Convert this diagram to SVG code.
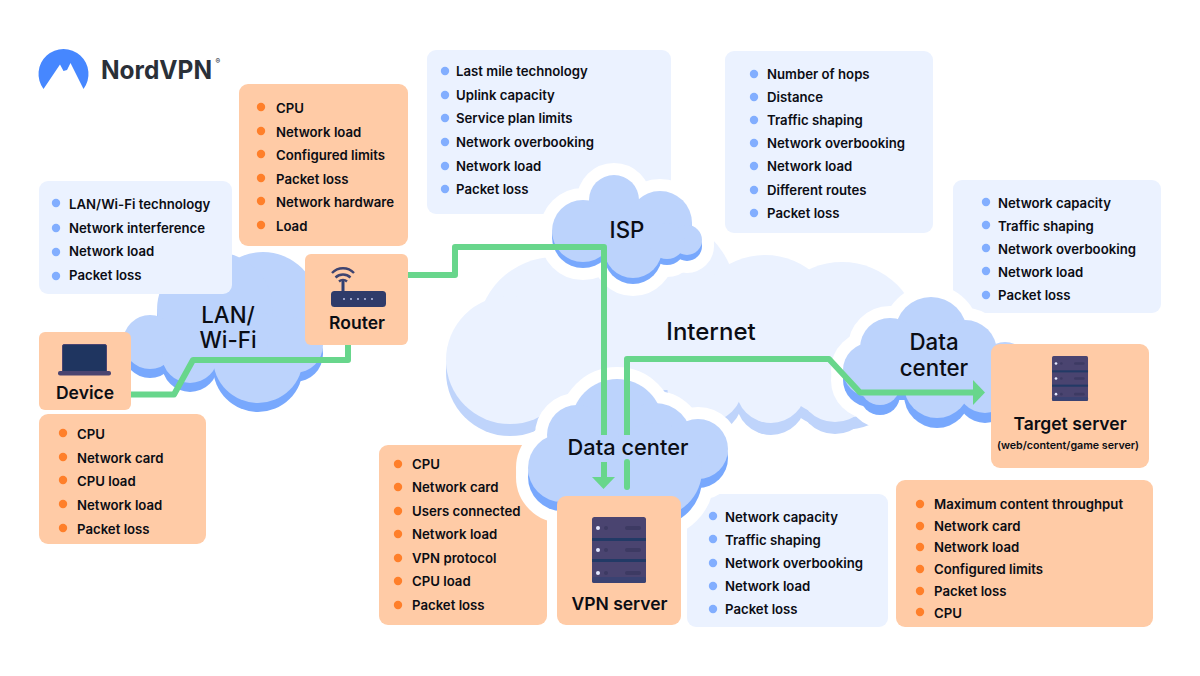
<svg xmlns="http://www.w3.org/2000/svg" xmlns:xlink="http://www.w3.org/1999/xlink" width="1200" height="676" viewBox="0 0 1200 676">
<style>
text{font-family:"Inter","Liberation Sans",sans-serif;fill:#0b0d14}
.i{font-size:13.2px;font-weight:600}
.l{font-size:22.3px;font-weight:500}
.n{font-size:17.5px;font-weight:600}
.m{text-anchor:middle}
.po{fill:#ffcba6}.pb{fill:#ebf2ff}
.bo{fill:#ff7f2a}.bb{fill:#82aeff}
.bo circle,.bb circle{r:4.2px}
.cm{fill:#bcd3fc}.cs{fill:#78a8fd}
.halo{fill:#fff;stroke:#fff;stroke-width:24;stroke-linejoin:round}
.con{fill:none;stroke:#68d68c;stroke-width:6;stroke-linejoin:round}
.arr{fill:#68d68c}
</style>
<defs>
<g id="cInternet"><circle cx="555" cy="335" r="78"/><circle cx="510" cy="360" r="64"/><circle cx="650" cy="300" r="87"/><circle cx="765" cy="330" r="75"/><circle cx="842" cy="340" r="78"/><circle cx="705" cy="385" r="38"/><circle cx="771" cy="388" r="35"/><circle cx="835" cy="385" r="37"/><rect x="540" y="290" width="320" height="100"/></g>
<g id="cLan"><circle cx="263" cy="307" r="55"/><circle cx="215" cy="310" r="58"/><circle cx="150" cy="342" r="27"/><circle cx="190" cy="355" r="28"/><circle cx="258" cy="358" r="45"/><circle cx="295" cy="345" r="28"/></g>
<g id="cIsp"><circle cx="614" cy="200" r="25"/><circle cx="583" cy="231" r="31"/><circle cx="660" cy="223" r="32"/><circle cx="687" cy="240" r="15"/><circle cx="633" cy="249" r="29"/><circle cx="667" cy="241" r="18"/><rect x="600" y="210" width="50" height="40"/></g>
<g id="cDc1"><circle cx="617" cy="425" r="46"/><circle cx="577" cy="435" r="30"/><circle cx="562" cy="468" r="34"/><circle cx="655" cy="440" r="37"/><circle cx="698" cy="449" r="30"/><circle cx="655" cy="470" r="47"/><rect x="560" y="440" width="120" height="65"/></g>
<g id="cDc2"><circle cx="931" cy="333" r="36"/><circle cx="890" cy="348" r="30"/><circle cx="870" cy="370" r="27"/><circle cx="965" cy="352" r="32"/><circle cx="1005" cy="367" r="25"/><circle cx="880" cy="385" r="20"/><circle cx="937" cy="385" r="33"/><circle cx="985" cy="385" r="28"/><rect x="870" y="340" width="120" height="50"/></g>
<g id="srv">
<rect x="0" y="0" width="54" height="66" rx="2.5" fill="#4a4470"/>
<rect x="0" y="21" width="54" height="3" fill="#223a66"/><rect x="0" y="42" width="54" height="3" fill="#223a66"/><rect x="0" y="60" width="54" height="6" rx="2" fill="#3a4272"/>
<g fill="#e6e9ff"><circle cx="6" cy="11" r="2"/><circle cx="6" cy="33" r="2"/><circle cx="6" cy="56" r="2"/></g>
<g fill="#3d3a63"><circle cx="14" cy="11" r="2"/><circle cx="14" cy="33" r="2"/><circle cx="14" cy="56" r="2"/><rect x="33" y="9" width="16" height="4" rx="2"/><rect x="33" y="31" width="16" height="4" rx="2"/><rect x="33" y="54" width="16" height="4" rx="2"/></g>
</g>
</defs>

<g id="internet-cloud">
<use href="#cInternet" transform="translate(0,12)" fill="#bfd4fb"/>
<use href="#cInternet" fill="#ebf2ff"/>
<text x="711" y="340" class="m" style="font-size:24px;font-weight:500">Internet</text>
</g>

<g id="list-isp"><rect x="427" y="50" width="244" height="164" rx="9" class="pb"/>
<g class="bb"><circle cx="445" cy="71" r="4"/><circle cx="445" cy="95" r="4"/><circle cx="445" cy="118" r="4"/><circle cx="445" cy="142" r="4"/><circle cx="445" cy="166" r="4"/><circle cx="445" cy="189" r="4"/></g>
<g class="i"><text x="456" y="76">Last mile technology</text><text x="456" y="100">Uplink capacity</text><text x="456" y="123">Service plan limits</text><text x="456" y="147">Network overbooking</text><text x="456" y="171">Network load</text><text x="456" y="194">Packet loss</text></g></g>

<g id="list-hops"><rect x="725" y="51" width="208" height="182" rx="9" class="pb"/>
<g class="bb"><circle cx="754" cy="74" r="4"/><circle cx="754" cy="97" r="4"/><circle cx="754" cy="120" r="4"/><circle cx="754" cy="143" r="4"/><circle cx="754" cy="166" r="4"/><circle cx="754" cy="190" r="4"/><circle cx="754" cy="213" r="4"/></g>
<g class="i"><text x="767" y="79">Number of hops</text><text x="767" y="102">Distance</text><text x="767" y="125">Traffic shaping</text><text x="767" y="148">Network overbooking</text><text x="767" y="171">Network load</text><text x="767" y="195">Different routes</text><text x="767" y="218">Packet loss</text></g></g>

<g id="list-dc2"><rect x="953" y="180" width="208" height="133" rx="9" class="pb"/>
<g class="bb"><circle cx="986" cy="202" r="4"/><circle cx="986" cy="225" r="4"/><circle cx="986" cy="248" r="4"/><circle cx="986" cy="271" r="4"/><circle cx="986" cy="295" r="4"/></g>
<g class="i"><text x="998" y="208">Network capacity</text><text x="998" y="231">Traffic shaping</text><text x="998" y="254">Network overbooking</text><text x="998" y="277">Network load</text><text x="998" y="300">Packet loss</text></g></g>

<g id="list-vpn-orange"><rect x="379" y="445" width="168" height="180" rx="9" class="po"/></g>
<g id="list-vpn-blue"><rect x="687" y="494" width="201" height="133" rx="9" class="pb"/></g>

<g id="cloud-lan">
<use href="#cLan" transform="translate(0,9)" class="cs"/>
<use href="#cLan" class="cm"/>
<text x="228" y="323" class="l m">LAN/</text><text x="228" y="348" class="l m">Wi-Fi</text>
</g>

<g id="cloud-isp">
<use href="#cIsp" class="halo"/><use href="#cIsp" transform="translate(0,6)" class="halo"/>
<use href="#cIsp" transform="translate(0,6)" class="cs"/>
<use href="#cIsp" class="cm"/>
<text x="627" y="238" class="l m">ISP</text>
</g>

<g id="cloud-dc2">
<use href="#cDc2" class="halo"/><use href="#cDc2" transform="translate(0,10)" class="halo"/>
<use href="#cDc2" transform="translate(0,10)" class="cs"/>
<use href="#cDc2" class="cm"/>
<text x="934" y="350" class="l m">Data</text><text x="934" y="376" class="l m">center</text>
</g>

<g id="cloud-dc1">
<use href="#cDc1" class="halo"/><use href="#cDc1" transform="translate(0,9)" class="halo"/>
<use href="#cDc1" transform="translate(0,9)" class="cs"/>
<use href="#cDc1" class="cm"/>
</g>

<g id="list-vpn-orange-text">
<g class="bo"><circle cx="398" cy="464" r="4"/><circle cx="398" cy="487" r="4"/><circle cx="398" cy="511" r="4"/><circle cx="398" cy="534" r="4"/><circle cx="398" cy="558" r="4"/><circle cx="398" cy="581" r="4"/><circle cx="398" cy="605" r="4"/></g>
<g class="i"><text x="412" y="469">CPU</text><text x="412" y="492">Network card</text><text x="412" y="516">Users connected</text><text x="412" y="539">Network load</text><text x="412" y="563">VPN protocol</text><text x="412" y="586">CPU load</text><text x="412" y="610">Packet loss</text></g>
</g>
<g id="list-vpn-blue-text">
<g class="bb"><circle cx="713" cy="516" r="4"/><circle cx="713" cy="539" r="4"/><circle cx="713" cy="563" r="4"/><circle cx="713" cy="586" r="4"/><circle cx="713" cy="609" r="4"/></g>
<g class="i"><text x="725" y="522">Network capacity</text><text x="725" y="545">Traffic shaping</text><text x="725" y="568">Network overbooking</text><text x="725" y="591">Network load</text><text x="725" y="614">Packet loss</text></g>
</g>

<g id="connectors">
<path class="con" d="M131 394.500H174L193 360H348V345"/>
<path class="con" d="M408 275H455V247H604V435"/>
<path class="con" d="M604 462V478"/>
<path class="arr" d="M592 477H615L603.500 489Z"/>
<path class="con" d="M627 487V462" stroke-linecap="round"/>
<path class="con" d="M627 435V359H829L860 392.500H974"/>
<path class="arr" d="M973 380L985 392.500L973 405Z"/>
</g>
<text x="628" y="455" class="m" id="label-dc1" style="font-size:21.8px;font-weight:500">Data center</text>

<g id="list-lan"><rect x="39" y="181" width="193" height="113" rx="9" class="pb"/>
<g class="bb"><circle cx="56" cy="203" r="4"/><circle cx="56" cy="228" r="4"/><circle cx="56" cy="252" r="4"/><circle cx="56" cy="276" r="4"/></g>
<g class="i"><text x="69" y="209">LAN/Wi-Fi technology</text><text x="69" y="233">Network interference</text><text x="69" y="256">Network load</text><text x="69" y="280">Packet loss</text></g></g>

<g id="list-router"><rect x="239" y="84" width="169" height="162" rx="9" class="po"/>
<g class="bo"><circle cx="261" cy="107" r="4"/><circle cx="261" cy="131" r="4"/><circle cx="261" cy="154" r="4"/><circle cx="261" cy="178" r="4"/><circle cx="261" cy="201" r="4"/><circle cx="261" cy="225" r="4"/></g>
<g class="i"><text x="276" y="113">CPU</text><text x="276" y="137">Network load</text><text x="276" y="160">Configured limits</text><text x="276" y="184">Packet loss</text><text x="276" y="207">Network hardware</text><text x="276" y="231">Load</text></g></g>

<g id="list-device"><rect x="39" y="414" width="167" height="130" rx="9" class="po"/>
<g class="bo"><circle cx="63" cy="433" r="4"/><circle cx="63" cy="457" r="4"/><circle cx="63" cy="480" r="4"/><circle cx="63" cy="504" r="4"/><circle cx="63" cy="528" r="4"/></g>
<g class="i"><text x="77" y="439">CPU</text><text x="77" y="463">Network card</text><text x="77" y="486">CPU load</text><text x="77" y="510">Network load</text><text x="77" y="534">Packet loss</text></g></g>

<g id="list-target"><rect x="896" y="480" width="257" height="147" rx="9" class="po"/>
<g class="bo"><circle cx="920" cy="504" r="4"/><circle cx="920" cy="526" r="4"/><circle cx="920" cy="547" r="4"/><circle cx="920" cy="569" r="4"/><circle cx="920" cy="591" r="4"/><circle cx="920" cy="612" r="4"/></g>
<g class="i"><text x="934" y="509">Maximum content throughput</text><text x="934" y="531">Network card</text><text x="934" y="552">Network load</text><text x="934" y="574">Configured limits</text><text x="934" y="596">Packet loss</text><text x="934" y="618">CPU</text></g></g>

<g id="node-device"><rect x="39" y="332" width="92" height="78" rx="6" class="po"/>
<rect x="62.500" y="344.500" width="44" height="28" rx="1.500" fill="#1f3560" stroke="#4a4470"/>
<rect x="58" y="371" width="53" height="4.500" rx="2" fill="#4a4470"/>
<text x="85" y="399" class="n m">Device</text></g>

<g id="node-router"><rect x="305" y="254" width="103" height="91" rx="6" class="po"/>
<g fill="none" stroke="#3e4470" stroke-width="2.400"><path d="M332 273A15 15 0 0 1 354 273"/><path d="M335.500 277.500A11 11 0 0 1 350.500 277.500"/><path d="M339 281.500A6 6 0 0 1 347 281.500"/></g>
<rect x="341.500" y="281" width="3" height="11" fill="#2f3f72"/>
<rect x="331" y="291" width="55" height="16" rx="3.500" fill="#2f3b6a"/>
<g fill="#c9cff0"><circle cx="344" cy="299" r=".9"/><circle cx="351" cy="299" r=".9"/><circle cx="358" cy="299" r=".9"/><circle cx="365" cy="299" r=".9"/><circle cx="372" cy="299" r=".9"/></g>
<text x="357" y="329" class="n m">Router</text></g>

<g id="node-vpn"><rect x="557" y="496" width="124" height="129" rx="9" class="po"/>
<use href="#srv" x="592" y="517"/>
<text x="619.500" y="610" class="n m">VPN server</text></g>

<g id="node-target"><rect x="991" y="344" width="158" height="124" rx="9" class="po"/>
<use href="#srv" transform="translate(1052,356) scale(.667,.682)"/>
<text x="1070" y="430" class="n m">Target server</text>
<text x="1068" y="449" class="m" style="font-size:10.700px;font-weight:600">(web/content/game server)</text></g>

<g id="logo">
<path d="M43.500 89A25 25 0 1 1 83.500 89L70.500 63L67 70L63.500 71L60 64.500Z" fill="#4687ff"/>
<text x="101" y="79" style="font-size:25.500px;font-weight:700;fill:#2a3038" textLength="111" lengthAdjust="spacingAndGlyphs">NordVPN</text>
<text x="215.500" y="64" style="font-size:7px;font-weight:700;fill:#2a3038">®</text>
</g>
</svg>
